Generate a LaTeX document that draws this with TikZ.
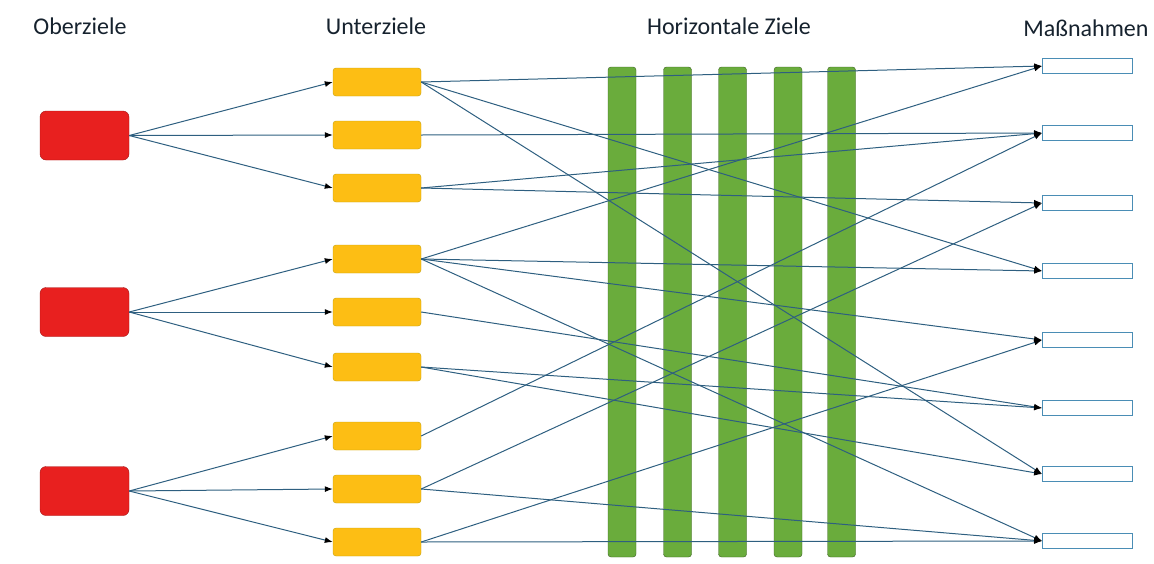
\documentclass[tikz,border=0pt]{standalone}
\usepackage{fontspec}
\setmainfont{Carlito}
\usepackage{xcolor}
\usetikzlibrary{arrows.meta,positioning}
\definecolor{oberred}{HTML}{E8201F}
\definecolor{untergold}{HTML}{FDBE14}
\definecolor{horizgreen}{HTML}{6AAC3C}
\definecolor{massblue}{HTML}{4A8DB5}
\definecolor{linkblue}{HTML}{2E5F80}
\definecolor{titledark}{HTML}{16222E}

\begin{document}
\begin{tikzpicture}[x=1pt, y=-1pt,
  title/.style={font=\fontsize{24}{28}\selectfont, text=titledark, inner sep=0pt},
  ober/.style={rectangle, rounded corners=6pt, fill=oberred, draw=oberred!70!black,
    minimum width=89pt, minimum height=49pt, inner sep=0pt},
  unter/.style={rectangle, rounded corners=3pt, fill=untergold, draw=untergold!55!olive,
    minimum width=88pt, minimum height=28pt, inner sep=0pt},
  horiz/.style={rectangle, rounded corners=3pt, fill=horizgreen, draw=horizgreen!55!black,
    minimum width=28pt, minimum height=490pt, inner sep=0pt},
  mass/.style={rectangle, fill=white, draw=massblue, thick,
    minimum width=90pt, minimum height=15pt, inner sep=0pt},
  link/.style={linkblue, line width=1pt,
    -{Latex[length=8pt, width=6pt, color=black]}}
]
\useasboundingbox (0,0) rectangle (1154,563);
% ── Titles ───────────────────────────────────────
\node[title] (tober) at (80,26) {Oberziele};
\node[title] (tunter) at (376,26) {Unterziele};
\node[title] (thoriz) at (729,26) {Horizontale Ziele};
\node[title] (tmass) at (1086,28) {Maßnahmen};
% ── Oberziele ────────────────────────────────────
\foreach \i/\y in {1/135.5, 2/312, 3/491} {
  \node[ober] (o\i) at (84.5,\y) {};
}
% ── Unterziele ───────────────────────────────────
\foreach \i/\y in {1/82, 2/135, 3/188, 4/259, 5/312, 6/367, 7/436, 8/489, 9/542} {
  \node[unter] (u\i) at (377,\y) {};
}
% ── Horizontale Ziele ────────────────────────────
\foreach \i/\x in {1/622, 2/677.5, 3/732.5, 4/788, 5/841.5} {
  \node[horiz] (h\i) at (\x,312) {};
}
% ── Massnahmen ───────────────────────────────────
\foreach \i/\y in {1/66, 2/133, 3/203, 4/271, 5/340, 6/408, 7/474, 8/541} {
  \node[mass] (m\i) at (1087.5,\y) {};
}
% ── Oberziele -> Unterziele ──────────────────────
\foreach \o/\u in {1/1, 1/2, 1/3, 2/4, 2/5, 2/6, 3/7, 3/8, 3/9} {
  \draw[link] (o\o.east) -- (u\u.west);
}
% ── Unterziele -> Massnahmen ─────────────────────
\foreach \u/\m in {1/1, 1/4, 1/7, 2/2, 3/2, 3/3, 4/1, 4/4, 4/5, 4/8,
                   5/6, 6/6, 6/7, 7/2, 8/3, 8/8, 9/5, 9/8} {
  \draw[link] (u\u.east) -- (m\m.west);
}
\end{tikzpicture}
\end{document}
